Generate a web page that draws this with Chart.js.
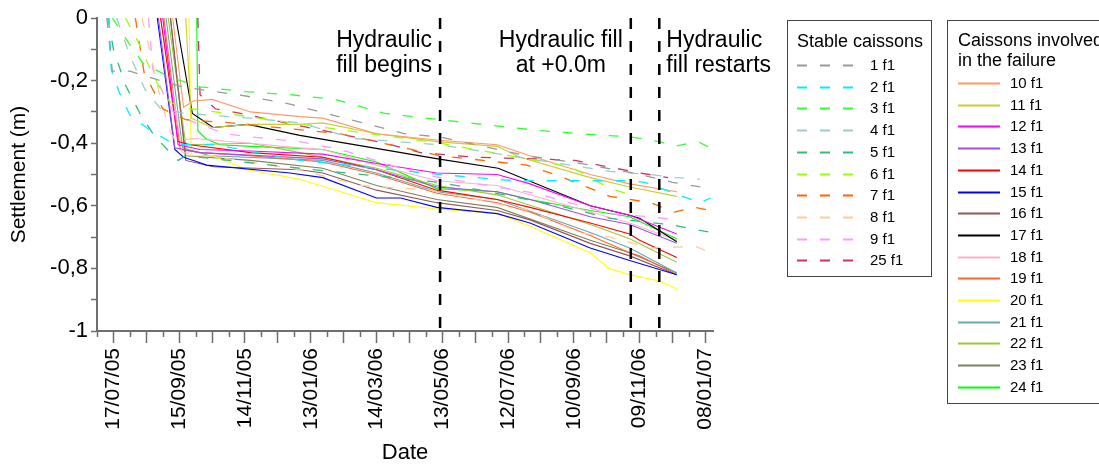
<!DOCTYPE html>
<html>
<head>
<meta charset="utf-8">
<title>Settlement of caissons</title>
<script src="https://cdn.jsdelivr.net/npm/chart.js@4.4.1/dist/chart.umd.min.js"></script>
<style>
  html, body { margin: 0; padding: 0; background: #fff; }
  #wrap { width: 1099px; height: 464px; }
</style>
</head>
<body>
<div id="wrap"><canvas id="settlementChart" width="1099" height="464"></canvas></div>
<script>
// ─── Data ──────────────────────────────────────────────────────
// x = days counted from 02/07/05, y = settlement in metres

const DATE_LABELS = ['17/07/05', '15/09/05', '14/11/05', '13/01/06', '14/03/06',
                     '13/05/06', '12/07/06', '10/09/06', '09/11/06', '08/01/07'];
const FIRST_LABEL_DAY = 15;
const LABEL_STEP = 60;
const X_MAX_DAY = 562;

// construction events (day, two-line note, side of the line)
const EVENT_DAYS  = [313, 487, 513];
const EVENT_NOTES = [['Hydraulic', 'fill begins'], ['Hydraulic fill', 'at +0.0m'], ['Hydraulic', 'fill restarts']];
const EVENT_SIDES = ['left', 'left', 'right'];

// stable caissons (dashed)
const STABLE_LABELS = ['1 f1', '2 f1', '3 f1', '4 f1', '5 f1', '6 f1', '7 f1', '8 f1', '9 f1', '25 f1'];
const STABLE_COLORS = ['#9a9a9a', '#00f0ff', '#33ff33', '#99cccc', '#33bb77', '#99ff00', '#ff6600', '#ffcc99', '#ff99ff', '#cc3366'];

const C1  = [[9,0],[14,-0.17],[30,-0.17],[58,-0.2],[78,-0.22],[137,-0.25],[176,-0.275],[281,-0.37],[313,-0.38],[392,-0.44],[442,-0.465],[489,-0.495],[525,-0.525],[560,-0.545]];
const C2  = [[11,0],[13,-0.165],[20,-0.235],[30,-0.31],[45,-0.35],[71,-0.405],[108,-0.405],[185,-0.455],[313,-0.5],[380,-0.52],[487,-0.52],[500,-0.525],[523,-0.555],[550,-0.59],[560,-0.575]];
const C3  = [[14,0],[29,-0.08],[42,-0.145],[67,-0.19],[94,-0.22],[135,-0.235],[176,-0.245],[217,-0.26],[263,-0.305],[313,-0.325],[404,-0.36],[441,-0.37],[487,-0.38],[513,-0.395],[527,-0.41],[548,-0.395],[560,-0.415]];
const C4  = [[18,0],[30,-0.12],[44,-0.23],[58,-0.29],[81,-0.305],[140,-0.32],[185,-0.335],[235,-0.385],[313,-0.405],[422,-0.465],[468,-0.49],[505,-0.5],[527,-0.51],[550,-0.515]];
const C5  = [[10,0],[15,-0.1],[26,-0.215],[40,-0.31],[53,-0.38],[67,-0.43],[74,-0.455],[81,-0.44],[185,-0.48],[313,-0.525],[422,-0.6],[468,-0.64],[523,-0.66],[560,-0.685]];
const C6  = [[26,0],[38,-0.08],[47,-0.15],[56,-0.215],[67,-0.27],[85,-0.29],[108,-0.3],[208,-0.35],[313,-0.4],[400,-0.455],[432,-0.475],[468,-0.545],[493,-0.57]];
const C7  = [[35,0],[43,-0.175],[60,-0.29],[81,-0.325],[122,-0.335],[222,-0.37],[313,-0.44],[392,-0.47],[422,-0.505],[468,-0.57],[505,-0.59],[527,-0.62],[545,-0.605],[560,-0.615]];
const C8  = [[41,0],[47,-0.085],[58,-0.26],[67,-0.365],[78,-0.43],[131,-0.455],[185,-0.485],[240,-0.535],[304,-0.55],[395,-0.615],[439,-0.685],[468,-0.7],[505,-0.735],[546,-0.73],[560,-0.75]];
const C9  = [[47,0],[51,-0.165],[61,-0.245],[71,-0.31],[117,-0.37],[140,-0.38],[185,-0.395],[222,-0.42],[277,-0.48],[313,-0.51],[400,-0.56],[468,-0.625],[505,-0.635],[527,-0.645]];
const C25 = [[92,0],[94,-0.245],[108,-0.29],[131,-0.305],[172,-0.335],[263,-0.4],[295,-0.43],[345,-0.445],[400,-0.45],[436,-0.455],[473,-0.48],[495,-0.495],[521,-0.51]];
const STABLE_SERIES = [C1, C2, C3, C4, C5, C6, C7, C8, C9, C25];

// caissons involved in the failure (solid)
const FAILURE_LABELS = ['10 f1', '11 f1', '12 f1', '13 f1', '14 f1', '15 f1', '16 f1', '17 f1',
                        '18 f1', '19 f1', '20 f1', '21 f1', '22 f1', '23 f1', '24 f1'];
const FAILURE_COLORS = ['#ff9966', '#cccc33', '#ff00ff', '#a050e0', '#ff0000', '#0000ff', '#905858', '#000000',
                        '#ffb0d0', '#ff6633', '#ffff00', '#66aaaa', '#99cc33', '#808060', '#00ff00'];

const C10 = [[69,0],[79,-0.285],[88,-0.265],[105,-0.26],[140,-0.3],[185,-0.315],[206,-0.32],[255,-0.37],[310,-0.39],[365,-0.405],[395,-0.44],[450,-0.5],[486,-0.53],[529,-0.555]];
const C11 = [[81,0],[86,-0.32],[105,-0.35],[140,-0.34],[185,-0.34],[206,-0.335],[255,-0.37],[310,-0.395],[365,-0.41],[386,-0.445],[450,-0.51],[486,-0.54],[529,-0.57]];
const C12 = [[60,0],[74,-0.405],[94,-0.42],[140,-0.425],[206,-0.435],[255,-0.465],[310,-0.495],[365,-0.5],[395,-0.53],[450,-0.6],[486,-0.63],[529,-0.69]];
const C13 = [[56,0],[71,-0.415],[94,-0.43],[206,-0.45],[255,-0.485],[310,-0.54],[365,-0.555],[395,-0.58],[450,-0.635],[486,-0.66],[529,-0.72]];
const C14 = [[58,0],[74,-0.395],[85,-0.405],[140,-0.43],[206,-0.445],[255,-0.485],[310,-0.55],[365,-0.58],[395,-0.605],[450,-0.655],[486,-0.69],[495,-0.71],[529,-0.765]];
const C15 = [[55,0],[71,-0.42],[79,-0.445],[88,-0.455],[100,-0.47],[176,-0.495],[206,-0.51],[255,-0.575],[277,-0.575],[310,-0.605],[365,-0.625],[395,-0.655],[450,-0.735],[486,-0.775],[529,-0.82]];
const C16 = [[67,0],[81,-0.455],[106,-0.475],[185,-0.485],[206,-0.495],[255,-0.55],[310,-0.59],[365,-0.615],[395,-0.645],[450,-0.72],[486,-0.76],[529,-0.82]];
const C17 = [[72,0],[87,-0.305],[106,-0.35],[138,-0.34],[185,-0.375],[311,-0.45],[366,-0.48],[450,-0.6],[486,-0.63],[495,-0.64],[529,-0.715]];
const C18 = [[58,0],[76,-0.39],[88,-0.385],[140,-0.4],[185,-0.415],[206,-0.42],[255,-0.47],[310,-0.52],[365,-0.535],[395,-0.565],[450,-0.62],[486,-0.655],[529,-0.71]];
const C19 = [[61,0],[76,-0.42],[94,-0.43],[140,-0.44],[206,-0.46],[255,-0.5],[310,-0.56],[365,-0.59],[395,-0.62],[450,-0.695],[486,-0.75],[495,-0.76],[529,-0.82]];
const C20 = [[84,0],[86,-0.44],[105,-0.44],[137,-0.485],[185,-0.515],[255,-0.59],[311,-0.61],[366,-0.625],[395,-0.665],[450,-0.75],[467,-0.8],[486,-0.82],[513,-0.84],[529,-0.865]];
const C21 = [[63,0],[78,-0.415],[103,-0.44],[206,-0.455],[255,-0.495],[310,-0.555],[365,-0.58],[450,-0.685],[486,-0.735],[529,-0.815]];
const C22 = [[65,0],[81,-0.405],[140,-0.4],[185,-0.43],[255,-0.48],[310,-0.535],[365,-0.565],[450,-0.66],[486,-0.705],[529,-0.78]];
const C23 = [[67,0],[81,-0.44],[140,-0.455],[206,-0.48],[255,-0.535],[310,-0.58],[365,-0.605],[450,-0.71],[486,-0.75],[529,-0.815]];
const C24 = [[91,0],[92,-0.36],[99,-0.385],[112,-0.405],[140,-0.41],[206,-0.42],[255,-0.46],[310,-0.545],[365,-0.555],[395,-0.58],[450,-0.615],[486,-0.635],[529,-0.705]];
const FAILURE_SERIES = [C10, C11, C12, C13, C14, C15, C16, C17, C18, C19, C20, C21, C22, C23, C24];

// ─── Styles ────────────────────────────────────────────────────
const FONT_FAMILY = '"Liberation Sans", Arial, sans-serif';
const AXIS_COLOR  = '#6e6e6e';
const DASH        = [10, 13];

const toPoints = arr => arr.map(([x, y]) => ({ x, y }));

const datasets = [
  ...STABLE_SERIES.map((s, i) => ({
    label: STABLE_LABELS[i], group: 'stable', data: toPoints(s),
    borderColor: STABLE_COLORS[i], borderWidth: 1.3, borderDash: DASH,
  })),
  ...FAILURE_SERIES.map((s, i) => ({
    label: FAILURE_LABELS[i], group: 'failure', data: toPoints(s),
    borderColor: FAILURE_COLORS[i], borderWidth: 1.1,
  })),
].map(d => ({ ...d, pointRadius: 0, fill: false, tension: 0 }));

// y tick text: 0, -0,2 ... -1 (comma decimals, every second tick)
function yTickText(v) {
  const tenth = Math.round(v * 10);
  if (tenth % 2 !== 0) return '';
  if (tenth === 0) return '0';
  if (tenth === -10) return '-1';
  return '-0,' + (-tenth);
}

function xTickText(v) {
  const k = (v - FIRST_LABEL_DAY) / LABEL_STEP;
  return Number.isInteger(k) && DATE_LABELS[k] ? DATE_LABELS[k] : '';
}

const isLongTick = v => (v - FIRST_LABEL_DAY) % 30 === 0;

// ─── Plugins ───────────────────────────────────────────────────

// short x ticks between the long ones
const minorTicks = {
  id: 'minorTicks',
  afterDraw(chart) {
    const { ctx, scales: { x } } = chart;
    const y0 = chart.chartArea.bottom;
    ctx.save();
    ctx.strokeStyle = AXIS_COLOR;
    ctx.lineWidth = 1.5;
    x.ticks.forEach(t => {
      if (isLongTick(t.value)) return;
      const px = Math.round(x.getPixelForValue(t.value)) + 0.5;
      ctx.beginPath(); ctx.moveTo(px, y0); ctx.lineTo(px, y0 + 6); ctx.stroke();
    });
    ctx.restore();
  }
};

// dashed event lines with their notes
const eventLines = {
  id: 'eventLines',
  afterDatasetsDraw(chart) {
    const { ctx, chartArea: { top, bottom }, scales: { x } } = chart;
    ctx.save();
    ctx.strokeStyle = '#000';
    ctx.lineWidth = 2.5;
    ctx.setLineDash([11, 12]);
    EVENT_DAYS.forEach(d => {
      const px = x.getPixelForValue(d);
      ctx.beginPath(); ctx.moveTo(px, top); ctx.lineTo(px, bottom); ctx.stroke();
    });
    ctx.setLineDash([]);
    ctx.font = '23px ' + FONT_FAMILY;
    ctx.fillStyle = '#000';
    ctx.textBaseline = 'alphabetic';
    EVENT_DAYS.forEach((d, i) => {
      const px = x.getPixelForValue(d);
      const lines = EVENT_NOTES[i];
      const w = Math.max(...lines.map(l => ctx.measureText(l).width));
      let tx;
      if (EVENT_SIDES[i] === 'left') { ctx.textAlign = 'center'; tx = px - 8 - w / 2; }
      else { ctx.textAlign = 'left'; tx = px + 7; }
      lines.forEach((l, j) => ctx.fillText(l, tx, top + 29 + j * 25));
    });
    ctx.restore();
  }
};

// two boxed legends on the right
const LEGEND_BOXES = [
  { group: 'stable',  x: 787.5, y: 20.5, w: 144, h: 256, title: ['Stable caissons'],
    titleY: 42, firstY: 65, lineX: [797, 853], textX: 870 },
  { group: 'failure', x: 947.5, y: 20.5, w: 170, h: 383, title: ['Caissons involved', 'in the failure'],
    titleY: 41, firstY: 83, lineX: [958, 1000], textX: 1010 },
];
const LEGEND_ROW = 21.7;

const boxLegends = {
  id: 'boxLegends',
  afterDraw(chart) {
    const { ctx } = chart;
    ctx.save();
    LEGEND_BOXES.forEach(b => {
      ctx.strokeStyle = '#444';
      ctx.lineWidth = 1;
      ctx.strokeRect(b.x, b.y, b.w, b.h);
      ctx.fillStyle = '#000';
      ctx.textAlign = 'left';
      ctx.textBaseline = 'middle';
      ctx.font = '18px ' + FONT_FAMILY;
      b.title.forEach((t, j) => ctx.fillText(t, b.lineX[0], b.titleY + j * 20));
      ctx.font = '15px ' + FONT_FAMILY;
      chart.data.datasets.filter(ds => ds.group === b.group).forEach((ds, i) => {
        const yy = Math.round(b.firstY + i * LEGEND_ROW) + 0.5;
        ctx.strokeStyle = ds.borderColor;
        ctx.lineWidth = 2;
        ctx.setLineDash(ds.borderDash || []);
        ctx.beginPath(); ctx.moveTo(b.lineX[0], yy); ctx.lineTo(b.lineX[1], yy); ctx.stroke();
        ctx.setLineDash([]);
        ctx.fillStyle = '#000';
        ctx.fillText(ds.label, b.textX, yy);
      });
    });
    ctx.restore();
  }
};

// ─── Chart ─────────────────────────────────────────────────────
new Chart(document.getElementById('settlementChart'), {
  type: 'line',
  data: { datasets },
  plugins: [minorTicks, eventLines, boxLegends],
  options: {
    responsive: false,
    animation: false,
    devicePixelRatio: 1,
    layout: { padding: { top: 18, right: 386, left: 0, bottom: 0 } },
    plugins: { legend: { display: false }, tooltip: { enabled: false } },
    scales: {
      x: {
        type: 'linear', min: 0, max: X_MAX_DAY,
        afterFit: s => { s.height = 133; },
        grid: {
          drawOnChartArea: false, tickLength: 12, tickWidth: 1.5,
          tickColor: c => (c.tick && isLongTick(c.tick.value)) ? AXIS_COLOR : 'rgba(0,0,0,0)',
        },
        border: { color: AXIS_COLOR, width: 2 },
        ticks: {
          stepSize: 15, autoSkip: false, includeBounds: false,
          minRotation: 90, maxRotation: 90, padding: 5,
          color: '#000', font: { family: FONT_FAMILY, size: 21 },
          callback: v => xTickText(v),
        },
        title: { display: true, text: 'Date', color: '#000',
                 font: { family: FONT_FAMILY, size: 22, lineHeight: 1 }, padding: { top: 0, bottom: 0 } },
      },
      y: {
        min: -1, max: 0,
        afterFit: s => { s.width = 97; },
        grid: { drawOnChartArea: false, tickLength: 6, tickWidth: 1.5, tickColor: AXIS_COLOR },
        border: { color: AXIS_COLOR, width: 2 },
        ticks: {
          stepSize: 0.1, autoSkip: false, padding: 3,
          color: '#000', font: { family: FONT_FAMILY, size: 22 },
          callback: v => yTickText(v),
        },
        title: { display: true, text: 'Settlement (m)', color: '#000',
                 font: { family: FONT_FAMILY, size: 21 }, padding: { top: 7, bottom: 0 } },
      },
    },
  },
});
</script>
</body>
</html>
